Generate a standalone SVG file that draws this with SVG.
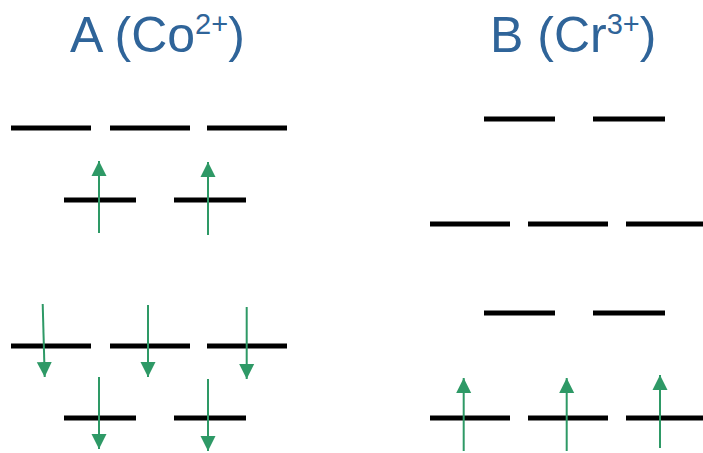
<svg xmlns="http://www.w3.org/2000/svg" width="703" height="453" viewBox="0 0 703 453">
<style>
.lvl{stroke:#000;stroke-width:5;}
.spin{stroke:#2E9966;stroke-width:2;fill:none;marker-end:url(#ah);}
.title{font-family:"Liberation Sans",Arial,sans-serif;fill:#2F6499;font-size:50px;}
.sup{font-size:29px;}
</style>
<defs>
<marker id="ah" markerUnits="userSpaceOnUse" markerWidth="16" markerHeight="16" viewBox="0 0 16 16" refX="15" refY="8" orient="auto">
<path d="M0,0.5 L15,8 L0,15.5 Z" fill="#2E9966"/>
</marker>
</defs>
<rect width="703" height="453" fill="#fff"/>
<g id="titleA"><text class="title" x="70" y="52">A (Co<tspan class="sup" y="34">2+</tspan><tspan y="52">)</tspan></text></g>
<g id="titleB"><text class="title" x="490" y="52">B (Cr<tspan class="sup" y="34">3+</tspan><tspan y="52">)</tspan></text></g>
<g id="levelsA">
<line class="lvl" x1="11" y1="128" x2="91" y2="128"/>
<line class="lvl" x1="110" y1="128" x2="190" y2="128"/>
<line class="lvl" x1="207" y1="128" x2="287" y2="128"/>
<line class="lvl" x1="64" y1="200" x2="136" y2="200"/>
<line class="lvl" x1="174" y1="200" x2="246" y2="200"/>
<line class="lvl" x1="11" y1="346" x2="91" y2="346"/>
<line class="lvl" x1="110" y1="346" x2="190" y2="346"/>
<line class="lvl" x1="207" y1="346" x2="287" y2="346"/>
<line class="lvl" x1="64" y1="418" x2="136" y2="418"/>
<line class="lvl" x1="174" y1="418" x2="246" y2="418"/>
</g>
<g id="levelsB">
<line class="lvl" x1="484" y1="119" x2="555" y2="119"/>
<line class="lvl" x1="593" y1="119" x2="665" y2="119"/>
<line class="lvl" x1="430" y1="224" x2="510" y2="224"/>
<line class="lvl" x1="528" y1="224" x2="608" y2="224"/>
<line class="lvl" x1="626" y1="224" x2="704" y2="224"/>
<line class="lvl" x1="484" y1="313" x2="555" y2="313"/>
<line class="lvl" x1="593" y1="313" x2="665" y2="313"/>
<line class="lvl" x1="430" y1="418" x2="510" y2="418"/>
<line class="lvl" x1="528" y1="418" x2="608" y2="418"/>
<line class="lvl" x1="626" y1="418" x2="704" y2="418"/>
</g>
<g id="spins">
<line class="spin" x1="99" y1="233" x2="99" y2="161"/>
<line class="spin" x1="208" y1="235" x2="208" y2="162"/>
<line class="spin" x1="42.7" y1="304" x2="44.7" y2="377"/>
<line class="spin" x1="148" y1="305" x2="148" y2="377"/>
<line class="spin" x1="246.7" y1="307" x2="246.7" y2="379"/>
<line class="spin" x1="99" y1="377" x2="99" y2="449"/>
<line class="spin" x1="208" y1="379" x2="208" y2="451"/>
<line class="spin" x1="463.7" y1="451" x2="463.7" y2="378"/>
<line class="spin" x1="566.7" y1="451" x2="566.7" y2="378"/>
<line class="spin" x1="660" y1="448" x2="660" y2="375"/>
</g>
</svg>
